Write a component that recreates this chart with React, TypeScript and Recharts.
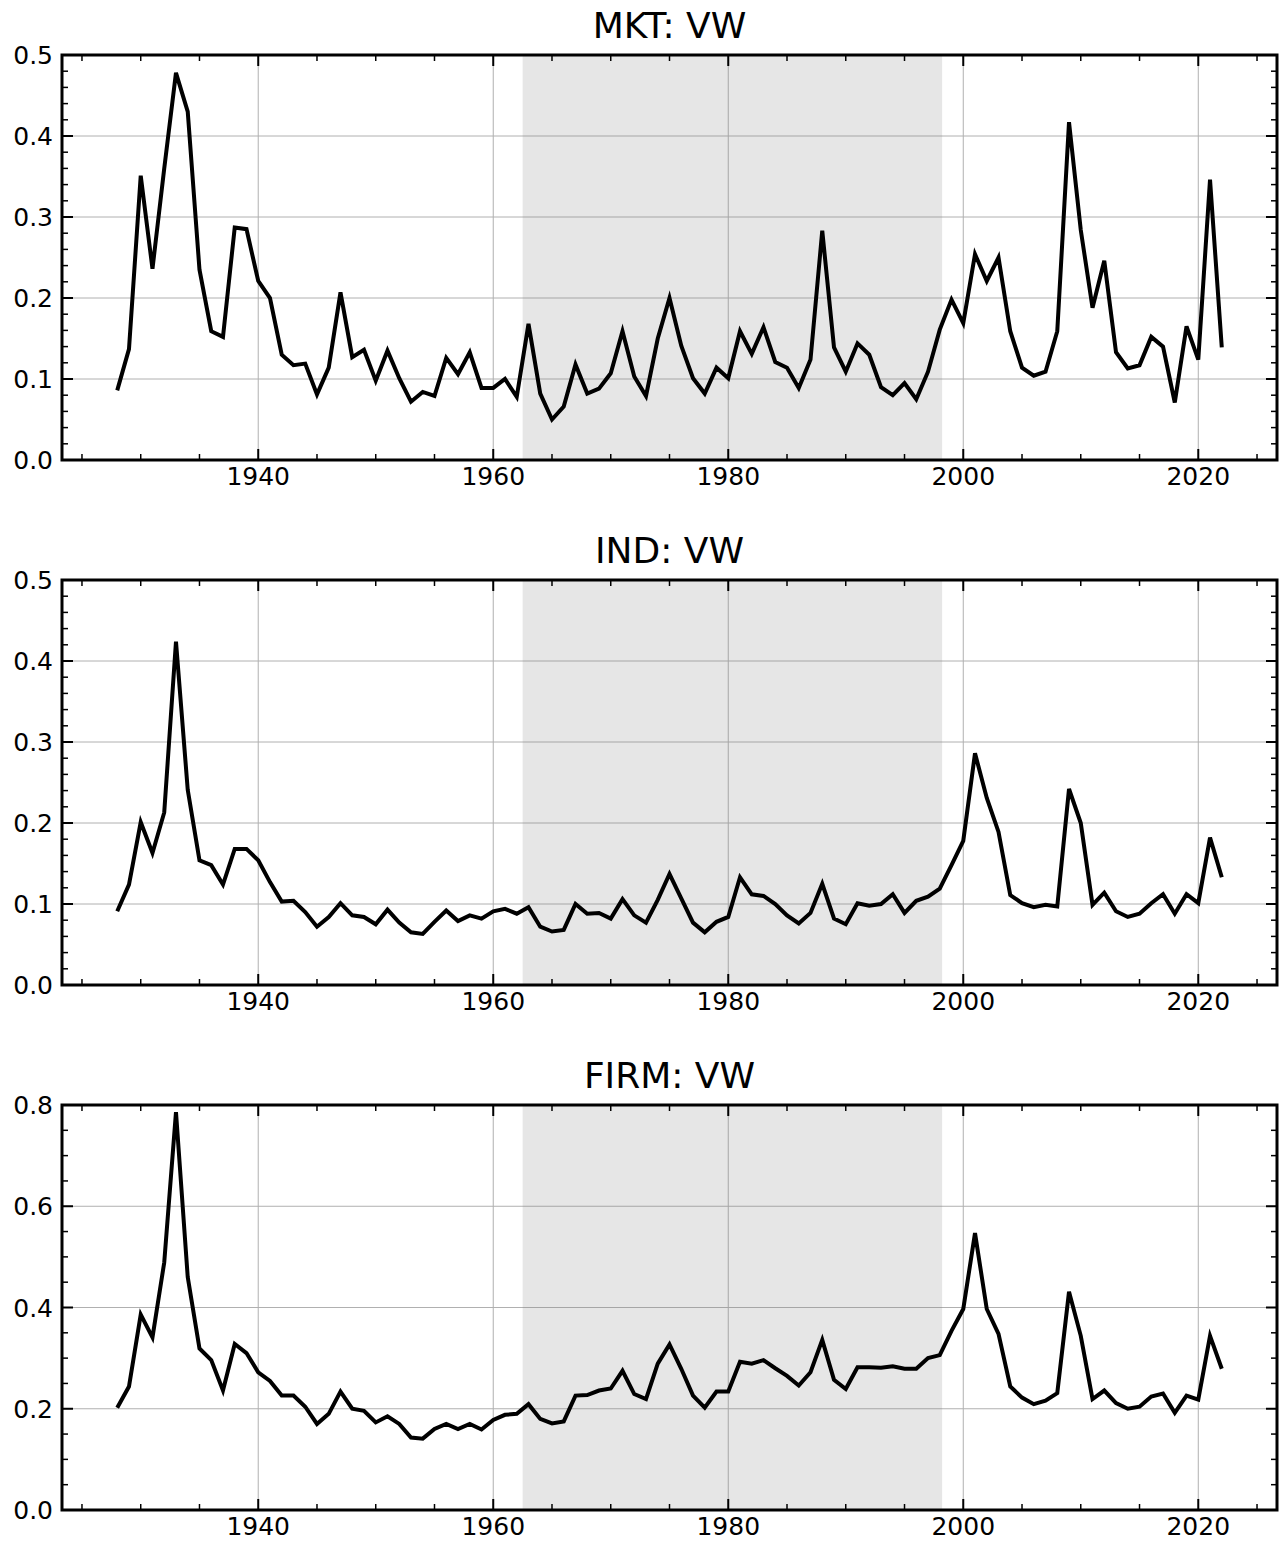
import React from 'react';
import { LineChart, Line, XAxis, YAxis, CartesianGrid, ReferenceArea } from 'recharts';

// annual observations, 1928-2022
const years = Array.from({ length: 95 }, (_, i) => 1928 + i);

const mktVW = [
  0.086, 0.137,
  0.351, 0.236, 0.360, 0.478, 0.430, 0.235, 0.159, 0.152, 0.287, 0.285,
  0.221, 0.200, 0.130, 0.117, 0.119, 0.081, 0.114, 0.207, 0.127, 0.136,
  0.098, 0.135, 0.101, 0.072, 0.084, 0.079, 0.126, 0.106, 0.133, 0.089,
  0.089, 0.100, 0.078, 0.168, 0.082, 0.050, 0.066, 0.118, 0.082, 0.088,
  0.107, 0.159, 0.103, 0.079, 0.150, 0.200, 0.141, 0.101, 0.082, 0.114,
  0.101, 0.159, 0.131, 0.164, 0.121, 0.114, 0.089, 0.124, 0.283, 0.139,
  0.109, 0.144, 0.130, 0.090, 0.080, 0.095, 0.075, 0.109, 0.161, 0.198,
  0.169, 0.254, 0.221, 0.250, 0.159, 0.114, 0.104, 0.109, 0.159, 0.417,
  0.284, 0.188, 0.246, 0.133, 0.113, 0.117, 0.152, 0.140, 0.071, 0.165,
  0.124, 0.346, 0.139,
];

const indVW = [
  0.091, 0.124,
  0.201, 0.163, 0.213, 0.424, 0.241, 0.154, 0.148, 0.124, 0.168, 0.168,
  0.154, 0.127, 0.103, 0.104, 0.090, 0.072, 0.084, 0.101, 0.086, 0.084,
  0.075, 0.093, 0.077, 0.065, 0.063, 0.078, 0.092, 0.079, 0.086, 0.082,
  0.091, 0.094, 0.088, 0.096, 0.072, 0.066, 0.068, 0.100, 0.088, 0.089,
  0.082, 0.106, 0.086, 0.077, 0.105, 0.137, 0.107, 0.077, 0.065, 0.078,
  0.084, 0.133, 0.112, 0.110, 0.100, 0.086, 0.076, 0.089, 0.125, 0.082,
  0.075, 0.101, 0.098, 0.100, 0.112, 0.089, 0.104, 0.109, 0.119, 0.148,
  0.178, 0.286, 0.231, 0.189, 0.111, 0.101, 0.096, 0.099, 0.097, 0.242,
  0.200, 0.099, 0.114, 0.091, 0.084, 0.088, 0.101, 0.112, 0.088, 0.112,
  0.101, 0.182, 0.133,
];

const firmVW = [
  0.202, 0.244,
  0.386, 0.341, 0.489, 0.786, 0.460, 0.319, 0.296, 0.236, 0.328, 0.310,
  0.272, 0.255, 0.226, 0.226, 0.204, 0.170, 0.190, 0.234, 0.200, 0.196,
  0.173, 0.185, 0.170, 0.143, 0.141, 0.160, 0.170, 0.160, 0.170, 0.159,
  0.178, 0.188, 0.190, 0.209, 0.180, 0.171, 0.175, 0.226, 0.227, 0.236,
  0.240, 0.275, 0.229, 0.219, 0.289, 0.327, 0.279, 0.226, 0.202, 0.234,
  0.234, 0.293, 0.289, 0.296, 0.280, 0.265, 0.246, 0.272, 0.336, 0.257,
  0.239, 0.282, 0.282, 0.281, 0.284, 0.279, 0.279, 0.300, 0.306, 0.354,
  0.397, 0.547, 0.397, 0.348, 0.244, 0.222, 0.209, 0.216, 0.231, 0.431,
  0.344, 0.219, 0.236, 0.211, 0.200, 0.204, 0.224, 0.230, 0.192, 0.226,
  0.218, 0.344, 0.279,
];

const titles = ['MKT: VW', 'IND: VW', 'FIRM: VW'];

const xDomain = [1923.3, 2026.7];
const xMajorTicks = [1940, 1960, 1980, 2000, 2020];
const xMinorTicks = [1925, 1930, 1935, 1945, 1950, 1955, 1965, 1970, 1975, 1985, 1990, 1995, 2005, 2010, 2015, 2025];

// shaded sub-period
const shadeStart = 1962.5;
const shadeEnd = 1998.2;

const yTicksSmall = [0, 0.1, 0.2, 0.3, 0.4, 0.5];
const yMinorSmall = [0.02, 0.04, 0.06, 0.08, 0.12, 0.14, 0.16, 0.18, 0.22, 0.24, 0.26, 0.28, 0.32, 0.34, 0.36, 0.38, 0.42, 0.44, 0.46, 0.48];
const yTicksFirm = [0, 0.2, 0.4, 0.6, 0.8];
const yMinorFirm = [0.05, 0.1, 0.15, 0.25, 0.3, 0.35, 0.45, 0.5, 0.55, 0.65, 0.7, 0.75];

const FONT = '"DejaVu Sans", sans-serif';
const W = 1283;
const H = 525;
const TOP = 55;
const BOTTOM = 460;
const LEFT = 62;
const RIGHT = 1277;
const MAJOR = 11;
const MINOR = 6;

const isIn = (list: number[], v: number) => list.some((t) => Math.abs(t - v) < 1e-9);

const XTick = (props: any) => {
  const { x, payload } = props;
  const major = isIn(xMajorTicks, payload.value);
  const len = major ? MAJOR : MINOR;
  const sw = major ? 2 : 1.5;
  return (
    <g>
      <line x1={x} x2={x} y1={BOTTOM} y2={BOTTOM - len} stroke="#000" strokeWidth={sw} />
      <line x1={x} x2={x} y1={TOP} y2={TOP + len} stroke="#000" strokeWidth={sw} />
      {major && (
        <text x={x} y={BOTTOM + 25} textAnchor="middle" fontSize={25} fontFamily={FONT} fill="#000">
          {payload.value}
        </text>
      )}
    </g>
  );
};

const makeYTick = (majors: number[]) => (props: any) => {
  const { y, payload } = props;
  const major = isIn(majors, payload.value);
  const len = major ? MAJOR : MINOR;
  const sw = major ? 2 : 1.5;
  return (
    <g>
      <line x1={LEFT} x2={LEFT + len} y1={y} y2={y} stroke="#000" strokeWidth={sw} />
      <line x1={RIGHT} x2={RIGHT - len} y1={y} y2={y} stroke="#000" strokeWidth={sw} />
      {major && (
        <text x={LEFT - 9} y={y} dy={9} textAnchor="end" fontSize={25} fontFamily={FONT} fill="#000">
          {Number(payload.value).toFixed(1)}
        </text>
      )}
    </g>
  );
};

const Panel = ({ values, yMax, yTicks, yMinor }: any) => {
  const data = years.map((year, i) => ({ year, value: values[i] }));
  const allX = [...xMajorTicks, ...xMinorTicks].sort((a, b) => a - b);
  const allY = [...yTicks, ...yMinor].sort((a, b) => a - b);
  return (
    <LineChart width={W} height={H} data={data} margin={{ top: TOP, right: W - RIGHT, bottom: 35, left: 12 }}>
      <ReferenceArea x1={shadeStart} x2={shadeEnd} fill="#808080" fillOpacity={0.2} stroke="none" ifOverflow="hidden" />
      <CartesianGrid stroke="#b0b0b0" strokeWidth={1} verticalValues={xMajorTicks} horizontalValues={yTicks} />
      <XAxis
        dataKey="year"
        type="number"
        domain={xDomain}
        allowDataOverflow
        ticks={allX}
        interval={0}
        height={30}
        tickLine={false}
        axisLine={false}
        tick={XTick}
      />
      <YAxis
        type="number"
        domain={[0, yMax]}
        allowDataOverflow
        ticks={allY}
        interval={0}
        width={50}
        tickLine={false}
        axisLine={false}
        tick={makeYTick(yTicks)}
      />
      <Line
        dataKey="value"
        type="linear"
        stroke="#000"
        strokeWidth={4}
        dot={false}
        activeDot={false}
        isAnimationActive={false}
      />
      {/* axes frame */}
      <ReferenceArea
        x1={xDomain[0]}
        x2={xDomain[1]}
        y1={0}
        y2={yMax}
        fill="none"
        stroke="#000"
        strokeWidth={3}
        ifOverflow="visible"
      />
    </LineChart>
  );
};

const panels = [
  { values: mktVW, yMax: 0.5, yTicks: yTicksSmall, yMinor: yMinorSmall },
  { values: indVW, yMax: 0.5, yTicks: yTicksSmall, yMinor: yMinorSmall },
  { values: firmVW, yMax: 0.8, yTicks: yTicksFirm, yMinor: yMinorFirm },
];

const App = () => {
  return (
    <div style={{ position: 'absolute', left: 0, top: 0, width: W, height: 1543, overflow: 'hidden', background: '#fff' }}>
      {panels.map((p, i) => (
        <div key={i} style={{ position: 'absolute', left: 0, top: i * H, width: W, height: H }}>
          <div
            style={{
              position: 'absolute',
              left: LEFT,
              top: 8,
              width: RIGHT - LEFT,
              textAlign: 'center',
              fontFamily: FONT,
              fontSize: 36,
              lineHeight: '36px',
              color: '#000',
            }}
          >
            {titles[i]}
          </div>
          <Panel {...p} />
        </div>
      ))}
    </div>
  );
};

export default App;
